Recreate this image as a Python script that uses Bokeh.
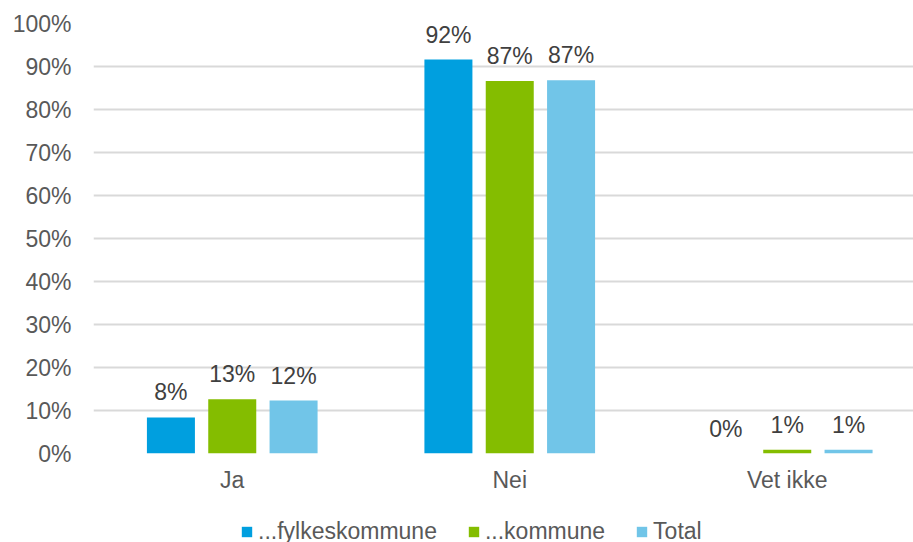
from bokeh.plotting import figure
from bokeh.layouts import column
from bokeh.models import (Range1d, FixedTicker, NumeralTickFormatter, ColumnDataSource,
                          LabelSet, Legend, LegendItem)
from bokeh.core.properties import value
from bokeh.embed import file_html
from bokeh.resources import INLINE

categories = ["Ja", "Nei", "Vet ikke"]
series_names = ["...fylkeskommune", "...kommune", "Total"]
fylkeskommune = [8.4, 91.6, 0.0]
kommune = [12.6, 86.6, 0.9]
total = [12.3, 86.8, 0.9]
y_ticks = [0, 10, 20, 30, 40, 50, 60, 70, 80, 90, 100]

colors = ["#009FDF", "#84BD00", "#71C5E8"]
FONT = "Liberation Sans"
FS = "23px"

p = figure(width=913, height=505, output_backend="svg", toolbar_location=None,
           x_range=Range1d(0, 2.955), y_range=Range1d(0, 1),
           min_border_left=93, min_border_right=0, min_border_top=23, min_border_bottom=52)
p.outline_line_color = None
p.background_fill_color = "white"
p.border_fill_color = "white"

centers = [i + 0.5 for i in range(len(categories))]
offsets = [-0.221, 0.0, 0.221]
bar_w = 0.173

for name, vals, col, off in zip(series_names, [fylkeskommune, kommune, total], colors, offsets):
    src = ColumnDataSource(dict(
        x=[c + off for c in centers],
        top=[v / 100 for v in vals],
        lab=[f"{round(v)}%" for v in vals],
    ))
    p.vbar(x="x", top="top", width=bar_w, bottom=0, source=src, fill_color=col,
           line_color=None)
    p.add_layout(LabelSet(x="x", y="top", text="lab", source=src, text_align="center",
                          text_baseline="alphabetic", y_offset=17, text_font=value(FONT),
                          text_font_size=FS, text_color="#404040"))

# y axis
p.yaxis.ticker = FixedTicker(ticks=[t / 100 for t in y_ticks])
p.yaxis.formatter = NumeralTickFormatter(format="0%")
p.yaxis.axis_line_color = None
p.yaxis.major_tick_line_color = None
p.yaxis.minor_tick_line_color = None
p.yaxis.major_tick_out = 0
p.yaxis.major_label_standoff = 22
p.yaxis.major_label_text_font = FONT
p.yaxis.major_label_text_font_size = FS
p.yaxis.major_label_text_color = "#595959"

# x axis
p.xaxis.ticker = FixedTicker(ticks=centers)
p.xaxis.major_label_overrides = {c: cat for c, cat in zip(centers, categories)}
p.xaxis.axis_line_color = None
p.xaxis.major_tick_line_color = None
p.xaxis.minor_tick_line_color = None
p.xaxis.major_tick_out = 0
p.xaxis.major_label_standoff = 13
p.xaxis.major_label_text_font = FONT
p.xaxis.major_label_text_font_size = FS
p.xaxis.major_label_text_color = "#595959"

p.xgrid.grid_line_color = None
p.ygrid.grid_line_color = "#D9D9D9"
p.ygrid.grid_line_width = 2

# legend strip below the chart (its frame is aligned with the chart's frame)
pl = figure(width=913, height=37, output_backend="svg", toolbar_location=None,
            x_axis_type=None, y_axis_type=None,
            x_range=Range1d(0, 1), y_range=Range1d(0, 1),
            min_border_left=0, min_border_right=0, min_border_top=0, min_border_bottom=0)
pl.grid.visible = False
pl.outline_line_color = None
items = []
for name, col in zip(series_names, colors):
    r = pl.vbar(x=[0], top=[0], width=0, fill_color=col, line_color=None)
    items.append(LegendItem(label=name, renderers=[r]))
lg = Legend(items=items, orientation="horizontal", location=(147, -3),
            padding=0, margin=0, spacing=30, glyph_width=13, glyph_height=13,
            label_standoff=5, label_text_font=FONT, label_text_font_size=FS,
            label_text_color="#595959", border_line_color=None,
            background_fill_alpha=0)
pl.add_layout(lg, "center")

open("out.html", "w").write(file_html(column(p, pl, spacing=0), INLINE))
